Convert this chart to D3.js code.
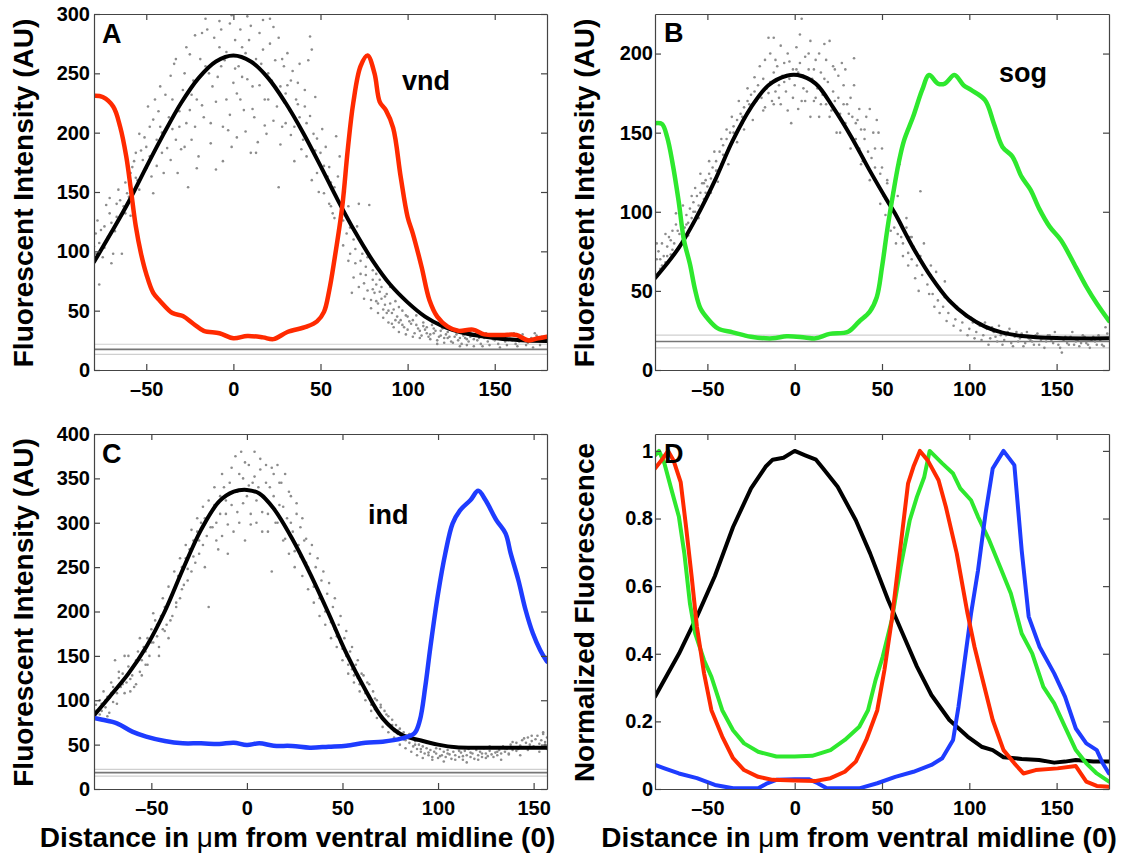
<!DOCTYPE html>
<html>
<head>
<meta charset="utf-8">
<script src="https://cdn.jsdelivr.net/npm/d3@7"></script>
<style>
  body { margin: 0; background: #fff; }
  svg text { font-family: "Liberation Sans", Arial, Helvetica, sans-serif; font-weight: bold; fill: #000; }
</style>
</head>
<body>
<svg id="fig" width="1133" height="854"></svg>
<script>
// ---- data ----
const xTicks = [-50, 0, 50, 100, 150];
const yTicksA = [0, 50, 100, 150, 200, 250, 300];
const yTicksB = [0, 50, 100, 150, 200];
const yTicksC = [0, 50, 100, 150, 200, 250, 300, 350, 400];
const yTicksD = [0, 0.2, 0.4, 0.6, 0.8, 1];

// background reference lines (mean and +/- band)
const hlinesA = [21.7, 17.4, 13.2];
const hlinesB = [22, 18, 14];
const hlinesC = [22.2, 18.4, 14.6];

// panel A: Dorsal fit (black) and vnd (red)
const dorsalA = [[-80,91],[-70,116],[-60,142],[-50,171],[-40,199],[-30,225],[-20,246],[-10,260],[0,265],[10,260],[20,246],[30,225],[40,200],[50,172],[60,143],[70,116],[80,92],[90,72],[100,57],[110,45],[120,37],[130,32],[140,29],[150,27],[165,25],[180,24.5]];
const vndA = [[-80,231],[-75,230],[-69,222],[-65,205],[-61.5,180],[-59,154],[-56,121],[-53,98],[-50,81],[-46,65],[-42,58],[-35,48],[-29,45.5],[-23,39],[-17,33],[-8,31],[0,26.7],[8,28.7],[17,27.5],[23,26],[31,32],[42,36.5],[48,41],[52,49],[55,67],[58,93],[62.5,138],[65.6,185],[68.8,225],[73,256],[77,265],[81,250],[84,226],[87.5,219],[91.7,204],[96,163],[100,129],[103,115],[108,87],[112.5,59],[117,45],[123,36.5],[129,33],[137.5,34],[144,30],[154,29.5],[162.5,29.5],[169,25],[175,26.7],[180,28]];
const scatterA = [[-79,115],[-77,107],[-77,72],[-74,121],[-73,139],[-71,132],[-70,90],[-69,98],[-67,129],[-65,143],[-64,98],[-62,132],[-61,149],[-59,166],[-58,171],[-56,183],[-55,160],[-54,199],[-52,177],[-50,188],[-49,222],[-48,180],[-46,149],[-45,228],[-44,194],[-42,205],[-42,239],[-41,183],[-40,166],[-37,213],[-36,177],[-35,228],[-34,258],[-33,194],[-32,166],[-31,205],[-29,236],[-28,188],[-27,272],[-26,154],[-25,219],[-24,194],[-23,244],[-22,205],[-21,228],[-20,180],[-18,284],[-17,213],[-16,256],[-15,287],[-13,191],[-12,239],[-10,169],[-9,247],[-8,272],[-7,287],[-6,205],[-5,261],[-4,228],[-3,202],[-2,292],[-1,188],[0,242],[1,278],[2,233],[3,256],[4,287],[5,247],[6,219],[7,267],[8,298],[9,278],[10,183],[11,239],[12,213],[13,183],[15,284],[16,258],[17,295],[18,228],[19,199],[20,250],[21,275],[22,244],[23,289],[24,261],[25,222],[26,154],[27,239],[28,205],[29,256],[30,233],[31,267],[32,219],[33,244],[35,205],[36,228],[37,242],[38,213],[40,194],[41,222],[42,208],[43,261],[44,281],[45,270],[46,199],[47,185],[48,166],[50,183],[52,149],[54,163],[55,171],[56,138],[57,132],[58,154],[59,197],[60,163],[61,180],[63,126],[65,115],[66,138],[67,98],[68,65],[69,110],[70,90],[71,121],[72,140],[73,81],[74,98],[75,73],[76,87],[77,67],[78,139],[79,59],[80,76],[81,65],[82,81],[83,56],[85,70],[86,51],[87,62],[88,48],[90,56],[91,39],[92,51],[94,45],[95,53],[96,42],[98,36],[99,46],[100,34],[102,39],[104,31],[106,35],[108,29],[110,34],[112,28],[115,31],[117,25],[119,29],[121,27],[123,32],[125,24],[127,28],[129,25],[131,22],[133,27],[135,24],[137,29],[140,25],[142,22],[144,27],[146,24],[148,28],[150,25],[152,22],[154,27],[156,24],[158,29],[160,25],[162,22],[165,27],[167,25],[169,23],[171,27],[173,31],[175,25],[177,28],[178,24],[100,45],[103,42],[105,38],[107,33],[109,40],[111,36],[113,30],[114,38],[116,33],[118,28],[120,35],[122,30],[124,28],[126,33],[128,30],[130,27],[132,30],[134,26],[136,28],[138,26],[85,60],[87,55],[89,50],[91,48],[93,42],[95,40],[97,38],[84,66],[82,72],[80,68],
  [-80,104],[-79,98],[-78,126],[-76,118],[-75,95],[-74,103],[-72,112],[-71,145],[-70,124],[-68,117],[-67,140],[-66,152],[-63,138],[-62,158],[-60,146],[-59,130],[-57,176],[-56,162],[-54,152],[-53,185],[-51,196],[-50,170],[-48,205],[-47,163],[-46,211],[-44,172],[-43,218],[-41,200],[-39,232],[-38,187],[-36,248],[-35,203],[-33,262],[-31,218],[-30,186],[-28,250],[-27,208],[-25,266],[-24,232],[-22,282],[-21,170],[-19,262],[-18,223],[-16,296],[-14,250],[-13,208],[-11,280],[-10,226],[-8,294],[-7,256],[-6,176],[-4,268],[-2,215],[-1,299],[1,254],[2,196],[4,228],[5,272],[7,201],[8,245],[10,290],[11,220],[13,262],[14,192],[15,240],[17,270],[18,206],[20,228],[21,296],[23,210],[24,238],[26,280],[27,190],[28,262],[30,208],[31,240],[33,198],[34,252],[35,176],[37,224],[38,258],[39,186],[41,236],[42,180],[44,214],[45,160],[47,230],[48,195],[49,150],[51,203],[52,172],[53,188],[55,140],[56,158],[58,128],[59,145],[61,118],[62,135],[63,105],[64,150],[66,92],[67,120],[69,78],[70,102],[72,70],[73,92],[75,60],[76,80],[77,95],[79,52],[80,84],[82,58],[83,48],[84,76],[86,44],[88,64],[89,40],[90,70],[92,36],[93,58],[95,32],[97,50],[99,30],[101,41],[103,28],[105,46],[107,27],[109,37],[111,31],[113,26],[115,35],[117,22],[119,33],[121,23],[123,27],[124,36],[126,23],[128,34],[130,20],[132,29],[134,21],[136,32],[138,20],[139,30],[141,27],[143,20],[145,31],[147,21],[149,26],[151,30],[153,19],[155,28],[157,21],[159,26],[161,31],[163,20],[164,24],[166,30],[168,21],[170,25],[172,19],[174,29],[176,21],[179,26]];

// panel B: Dorsal fit (black) and sog (green)
const dorsalB = [[-80,58],[-66.5,77],[-56,97],[-46,119],[-35.5,145],[-25,166],[-15,180],[-4.5,186],[1.7,186.4],[12,181],[22,166],[32.6,147],[43,126],[53,107],[57.4,99],[68,77],[78,59],[88.4,44],[98.8,34],[109,27.4],[119,23.6],[130,21.5],[150,20.2],[180,20]];
const sogB = [[-80,156],[-76,155.5],[-73,147],[-70,131],[-66.5,107],[-63.4,82],[-60,67],[-57,50.5],[-54,39],[-50,32.7],[-44,26.3],[-35.5,23.8],[-25,21],[-12.8,20],[-4.5,21.3],[5.8,20.6],[12,20],[20,22.8],[30.6,24.2],[36.8,30.5],[43,36.9],[47,46],[50,65],[53,88.5],[56.4,111.6],[59.5,130.6],[62.6,145],[67.8,160],[73,177],[77,186.4],[82,181],[86,181],[91.5,186.4],[96.7,180],[101,177],[109,170.6],[114,156],[119,141],[124.6,135],[130,122],[135,114],[140,102],[146,90.6],[152.5,82],[161,65],[167,52.7],[173,42],[180,31]];
const scatterB = [[-79,70],[-78,75],[-77,64],[-76,80],[-75,72],[-74,68],[-73,78],[-72,84],[-71,73],[-70,88],[-69,80],[-68,92],[-67,76],[-66,86],[-65,95],[-64,84],[-63,90],[-62,98],[-61,93],[-60,102],[-59,96],[-58,106],[-57,100],[-56,110],[-55,104],[-54,112],[-53,118],[-52,108],[-51,120],[-50,116],[-49,124],[-48,112],[-47,128],[-46,120],[-45,132],[-44,126],[-43,138],[-42,130],[-41,142],[-40,134],[-39,146],[-38,140],[-37,150],[-36,144],[-35,154],[-34,148],[-33,158],[-32,152],[-31,162],[-30,156],[-29,166],[-28,160],[-27,170],[-26,164],[-25,174],[-24,168],[-23,176],[-22,170],[-21,180],[-20,174],[-19,172],[-18,184],[-17,166],[-16,178],[-15,210],[-14,182],[-13,170],[-12,188],[-12,210],[-11,176],[-10,192],[-9,180],[-8,168],[-7,186],[-6,194],[-5,176],[-4,200],[-3,184],[-2,156],[-1,190],[0,180],[1,204],[2,188],[3,194],[4,222],[4,170],[5,186],[6,198],[7,176],[8,190],[9,208],[10,184],[11,170],[12,196],[13,178],[14,160],[15,188],[16,174],[17,206],[18,168],[19,182],[20,208],[21,164],[22,176],[23,190],[24,150],[25,172],[26,162],[27,194],[28,180],[29,156],[30,168],[31,150],[32,172],[33,160],[34,197],[35,146],[36,158],[37,140],[38,152],[39,132],[40,146],[41,160],[42,138],[43,120],[44,134],[45,150],[46,128],[47,158],[48,116],[49,124],[50,140],[51,110],[52,108],[53,118],[54,96],[55,104],[56,112],[57,90],[58,98],[59,86],[60,94],[60,130],[62,80],[63,88],[64,96],[65,74],[66,84],[67,70],[68,78],[70,66],[72,72],[72,113],[73,60],[75,64],[76,54],[78,60],[79,48],[80,56],[82,44],[83,52],[85,40],[86,46],[88,36],[90,42],[92,32],[94,38],[96,30],[98,34],[100,26],[102,30],[104,24],[106,28],[108,22],[110,26],[112,20],[114,24],[116,18],[118,22],[120,19],[122,24],[124,17],[126,21],[128,18],[130,23],[132,17],[134,20],[136,18],[138,22],[140,16],[142,20],[144,18],[146,22],[148,17],[150,20],[152,14],[154,19],[156,17],[158,21],[160,16],[162,19],[164,17],[166,21],[168,16],[170,19],[172,18],[174,22],[176,16],[178,27],
  [-80,62],[-79,80],[-77,70],[-76,66],[-74,86],[-73,72],[-71,82],[-70,76],[-68,99],[-67,88],[-65,80],[-64,104],[-62,92],[-61,85],[-59,110],[-58,100],[-57,115],[-55,96],[-54,124],[-52,118],[-51,112],[-49,132],[-48,121],[-46,138],[-45,126],[-44,119],[-42,146],[-41,136],[-39,152],[-38,130],[-36,160],[-35,150],[-33,144],[-32,170],[-30,160],[-29,152],[-27,178],[-26,168],[-24,158],[-23,185],[-21,172],[-20,192],[-18,164],[-17,196],[-15,175],[-14,200],[-12,168],[-11,196],[-9,172],[-8,205],[-6,182],[-4,164],[-3,195],[-1,172],[1,190],[2,165],[3,212],[5,178],[6,170],[8,200],[9,160],[11,190],[12,172],[14,200],[15,168],[17,184],[18,196],[20,160],[22,192],[23,170],[25,186],[26,150],[28,168],[29,190],[31,162],[32,140],[34,180],[35,156],[37,165],[38,130],[40,152],[42,128],[43,165],[45,122],[46,140],[48,150],[49,105],[50,128],[52,98],[53,120],[55,88],[56,102],[58,80],[59,110],[61,84],[62,72],[64,90],[65,66],[67,84],[69,58],[70,74],[71,50],[73,68],[74,80],[77,48],[78,66],[80,40],[81,62],[83,36],[84,50],[86,56],[87,31],[89,44],[91,28],[93,40],[95,25],[97,35],[99,22],[101,33],[103,20],[105,29],[107,19],[109,30],[111,16],[113,27],[115,21],[117,28],[119,16],[121,22],[123,26],[125,15],[127,24],[129,20],[131,15],[133,24],[135,19],[137,16],[139,23],[141,19],[143,14],[145,22],[147,19],[149,24],[151,16],[153,11],[155,21],[157,16],[159,24],[161,18],[163,15],[165,22],[167,17],[169,14],[171,21],[173,16],[175,19],[177,15],[179,23]];

// panel C: Dorsal fit (black) and ind (blue)
const dorsalC = [[-80,83],[-71.8,104],[-62,130],[-52.7,160],[-43,200],[-33.6,247],[-24,292],[-14.5,324],[-6.9,335],[0,337],[6.5,333],[14,316],[23.7,282],[33,243],[42.7,198],[52,153],[62,111.5],[71,79.6],[81,61],[90.5,55],[100,50],[109.5,47],[119,46.6],[138,46.6],[157,46.6]];
const indC = [[-80,80],[-75.6,78],[-68,74],[-60,64.6],[-52.7,59],[-43,54],[-33.6,51.5],[-24,51.5],[-14.5,50.7],[-6.9,52.2],[0,49.6],[6.5,51.5],[14,48.8],[23.7,48.5],[33,46.6],[42.7,47.7],[52,48.8],[62,52.2],[71,53.3],[81,57],[87.6,62.7],[90.5,77.7],[93.3,115],[96,160],[100,220],[103.8,265.5],[107.6,299],[111.5,314],[117,325.6],[121,336],[124.8,325.6],[130.5,303],[135.3,288],[138,265.5],[142,235.5],[145.8,201.7],[149.6,175.4],[153.4,156.6],[157,143.5]];
const scatterC = [[-79,95],[-78,80],[-77,100],[-76,88],[-75,110],[-74,92],[-73,104],[-72,86],[-71,120],[-70,98],[-69,145],[-68,108],[-67,125],[-66,115],[-65,130],[-64,150],[-63,120],[-62,138],[-61,110],[-60,128],[-59,140],[-58,118],[-57,155],[-56,132],[-55,145],[-54,160],[-53,140],[-52,170],[-51,150],[-50,180],[-49,165],[-48,190],[-47,172],[-46,160],[-45,195],[-44,180],[-43,205],[-42,185],[-41,170],[-40,215],[-39,195],[-38,225],[-37,205],[-36,240],[-35,215],[-34,250],[-33,230],[-32,260],[-31,235],[-30,270],[-29,245],[-28,280],[-27,255],[-26,290],[-25,265],[-24,300],[-23,275],[-22,305],[-21,285],[-20,205],[-19,310],[-18,295],[-17,320],[-16,300],[-15,270],[-14,330],[-13,285],[-12,340],[-11,310],[-10,265],[-9,345],[-8,320],[-7,290],[-6,375],[-5,335],[-4,300],[-3,380],[-2,350],[-1,280],[0,330],[1,365],[2,310],[3,345],[4,380],[5,300],[6,340],[7,360],[8,290],[9,330],[10,365],[11,310],[12,340],[13,245],[14,355],[15,300],[16,365],[17,320],[18,345],[19,280],[20,355],[21,305],[22,265],[23,330],[24,290],[25,250],[26,310],[27,275],[28,295],[29,240],[30,280],[31,255],[32,225],[33,265],[34,240],[35,210],[36,250],[37,225],[38,195],[39,235],[40,210],[41,185],[42,220],[43,195],[44,170],[45,205],[46,180],[47,160],[48,185],[49,165],[50,145],[51,170],[52,150],[53,130],[54,155],[55,135],[56,120],[57,140],[58,125],[59,110],[60,130],[61,115],[62,100],[63,120],[64,105],[65,95],[66,110],[67,90],[68,100],[69,85],[70,92],[71,80],[72,88],[73,75],[74,82],[75,70],[76,78],[77,65],[78,72],[79,62],[80,68],[81,58],[82,64],[83,55],[84,60],[85,52],[86,58],[87,48],[88,54],[89,45],[90,50],[91,42],[92,48],[93,40],[94,46],[95,38],[96,44],[97,36],[98,42],[99,40],[100,35],[101,45],[102,38],[103,42],[104,36],[105,44],[106,39],[107,34],[108,42],[109,38],[110,47],[111,36],[112,41],[113,33],[114,43],[115,38],[116,45],[117,36],[118,40],[119,34],[120,44],[121,38],[122,42],[123,36],[124,46],[125,40],[126,37],[127,43],[128,39],[129,47],[130,41],[131,38],[132,44],[133,40],[134,48],[135,42],[136,45],[137,39],[138,50],[139,44],[140,47],[141,52],[142,45],[143,49],[144,55],[145,47],[146,52],[147,58],[148,50],[149,54],[150,48],[151,56],[152,60],[153,51],[154,55],[155,62],[156,53],[157,58],
  [-80,78],[-79,88],[-77,84],[-76,96],[-74,100],[-73,82],[-71,108],[-70,115],[-68,96],[-67,132],[-65,118],[-64,108],[-62,150],[-61,124],[-59,115],[-58,145],[-56,170],[-55,128],[-53,155],[-52,140],[-50,165],[-49,198],[-47,185],[-46,150],[-44,215],[-43,178],[-41,228],[-40,190],[-38,245],[-37,210],[-35,260],[-34,225],[-32,275],[-31,248],[-29,292],[-28,262],[-26,305],[-25,280],[-23,318],[-22,250],[-20,325],[-19,295],[-17,340],[-16,280],[-14,310],[-13,355],[-11,325],[-10,298],[-8,362],[-7,335],[-5,312],[-4,355],[-2,322],[-1,368],[1,342],[2,298],[4,352],[5,325],[7,372],[8,312],[10,345],[11,290],[13,362],[14,330],[16,300],[17,345],[19,318],[20,282],[22,335],[23,300],[25,268],[26,322],[28,262],[29,305],[31,282],[32,250],[34,275],[35,228],[37,260],[38,215],[40,245],[41,200],[43,232],[44,188],[46,215],[47,172],[49,195],[50,158],[52,178],[53,140],[55,160],[56,128],[58,145],[59,118],[61,128],[62,108],[64,118],[65,88],[67,102],[68,80],[70,95],[71,70],[73,84],[74,64],[76,72],[77,58],[79,66],[80,50],[82,56],[83,46],[85,62],[86,42],[88,50],[89,38],[91,45],[92,35],[94,52],[95,41],[97,33],[99,46],[101,37],[103,31],[105,40],[107,47],[109,33],[111,43],[113,37],[115,30],[117,41],[119,47],[121,33],[123,40],[125,35],[127,48],[129,36],[131,42],[133,33],[135,46],[137,40],[139,53],[141,43],[143,38],[145,57],[147,44],[149,60],[151,47],[153,42],[155,64],[156,50],[157,45]];

// panel D: normalized profiles
const dorsalD = [[-80,0.273],[-66.3,0.40],[-56,0.51],[-45.7,0.63],[-35.3,0.775],[-25,0.889],[-16.7,0.953],[-12.6,0.974],[-6.4,0.98],[0,1.0],[6,0.987],[12.2,0.974],[16.3,0.948],[24.6,0.894],[35,0.795],[43.2,0.697],[53.5,0.559],[61.8,0.46],[70,0.362],[78.3,0.278],[88.6,0.204],[99,0.155],[107,0.125],[113.4,0.115],[119.6,0.094],[130,0.089],[140,0.086],[148.6,0.078],[154.8,0.081],[161,0.086],[171,0.081],[180,0.081]];
const vndD = [[-80,0.948],[-75.6,0.977],[-72.5,1.0],[-69.4,0.972],[-65.3,0.908],[-62.2,0.775],[-59,0.628],[-56,0.48],[-51.9,0.342],[-47.7,0.233],[-41.5,0.155],[-35.3,0.091],[-29,0.056],[-20.9,0.036],[-12.6,0.027],[0,0.025],[12.2,0.024],[20.5,0.032],[28.7,0.051],[35,0.081],[41,0.145],[47.3,0.233],[51.4,0.352],[55.6,0.5],[59.7,0.677],[64.9,0.903],[68,0.953],[71.7,1.0],[76.2,0.972],[82.4,0.913],[86.6,0.834],[92.8,0.697],[99,0.519],[103,0.42],[107.2,0.332],[113.4,0.204],[119.6,0.115],[125.8,0.076],[131,0.046],[138,0.056],[150.6,0.061],[161,0.068],[167,0.022],[173,0.009],[180,0.007]];
const sogD = [[-80,0.987],[-77.7,1.0],[-74.6,0.963],[-70.5,0.884],[-66.3,0.805],[-63.2,0.697],[-60,0.549],[-57,0.46],[-51.9,0.381],[-47.7,0.332],[-41.5,0.233],[-35.3,0.174],[-29,0.135],[-20.9,0.11],[-10.5,0.096],[0,0.096],[10,0.098],[20.5,0.115],[28.7,0.145],[37,0.184],[42,0.233],[46.3,0.322],[50.4,0.391],[55.6,0.5],[60.7,0.657],[65.9,0.795],[70,0.864],[74.2,0.923],[77.3,1.0],[84.5,0.963],[90.7,0.933],[94.8,0.889],[101,0.854],[105,0.805],[111.4,0.736],[117.6,0.657],[123.8,0.578],[130,0.46],[136,0.401],[142.4,0.302],[148.6,0.253],[154.8,0.184],[161,0.115],[167,0.076],[173,0.046],[180,0.022]];
const indD = [[-80,0.071],[-74.6,0.061],[-66.3,0.046],[-56,0.032],[-45.7,0.012],[-35.3,0.002],[-20.9,0.002],[-15.7,0.017],[-10.5,0.027],[0,0.029],[8,0.029],[13.2,0.017],[18.4,0.002],[37,0.002],[47.3,0.017],[57.6,0.036],[68,0.051],[78.3,0.071],[84.5,0.091],[90.7,0.145],[93.8,0.243],[96.9,0.362],[101,0.519],[105,0.647],[109.3,0.815],[113.4,0.948],[119.6,1.0],[125.8,0.958],[130,0.706],[134,0.51],[140.3,0.42],[148.6,0.342],[154.8,0.273],[161,0.179],[167,0.135],[173,0.115],[176.4,0.076],[180,0.046]];

const RED = "#ff2a00", GREEN = "#2ee82e", BLUE = "#1e3cff";
const yLabelAU = "Fluorescent Intensity (AU)";

const panels = [
  { tag: "A", left: 94, right: 547, top: 14, bottom: 370, xDomain: [-80, 180], yDomain: [0, 300],
    yTicks: yTicksA, yPad: 4, hlines: hlinesA, scatter: scatterA, smooth: true,
    lines: [[dorsalA, "#000", 4], [vndA, RED, 4.5]], yLabel: yLabelAU, xLabel: false,
    note: "vnd", noteX: 308, noteY: 76 },
  { tag: "B", left: 655, right: 1109, top: 14, bottom: 370, xDomain: [-80, 180], yDomain: [0, 225],
    yTicks: yTicksB, yPad: 2, hlines: hlinesB, scatter: scatterB, smooth: true,
    lines: [[dorsalB, "#000", 4], [sogB, GREEN, 4.5]], yLabel: yLabelAU, xLabel: false,
    note: "sog", noteX: 344, noteY: 68 },
  { tag: "C", left: 94, right: 547, top: 434, bottom: 789, xDomain: [-80, 157], yDomain: [0, 400],
    yTicks: yTicksC, yPad: 4, hlines: hlinesC, scatter: scatterC, smooth: true,
    lines: [[dorsalC, "#000", 4], [indC, BLUE, 4.5]], yLabel: yLabelAU, xLabel: true,
    note: "ind", noteX: 274, noteY: 90 },
  { tag: "D", left: 655, right: 1109, top: 434, bottom: 789, xDomain: [-80, 180], yDomain: [0, 1.05],
    yTicks: yTicksD, yPad: 2, hlines: [], scatter: [], smooth: false,
    lines: [[dorsalD, "#000", 4], [sogD, GREEN, 4], [indD, BLUE, 4], [vndD, RED, 4]],
    yLabel: "Normalized Fluorescence", xLabel: true, note: null }
];

const svg = d3.select("#fig");

function fmtY(d) {
  if (Number.isInteger(d)) return String(d);
  return d3.format(".1f")(d);
}

function drawPanel(p, i) {
  const w = p.right - p.left;
  const h = p.bottom - p.top;
  const x = d3.scaleLinear().domain(p.xDomain).range([0, w]);
  const y = d3.scaleLinear().domain(p.yDomain).range([h, 0]);
  const g = svg.append("g").attr("transform", `translate(${p.left},${p.top})`);

  g.append("clipPath").attr("id", "clip" + i)
    .append("rect").attr("width", w).attr("height", h);
  const plot = g.append("g").attr("clip-path", `url(#clip${i})`);

  // reference lines
  plot.selectAll("line.ref")
    .data(p.hlines)
    .join("line")
    .attr("x1", 0).attr("x2", w)
    .attr("y1", d => y(d)).attr("y2", d => y(d))
    .attr("stroke", (d, j) => j === 1 ? "#777" : "#cfcfcf")
    .attr("stroke-width", (d, j) => j === 1 ? 1.6 : 1.2);

  // scatter
  plot.selectAll("circle")
    .data(p.scatter)
    .join("circle")
    .attr("cx", d => x(d[0]))
    .attr("cy", d => y(d[1]))
    .attr("r", 1.3)
    .attr("fill", "#8c8c8c");

  const line = d3.line()
    .x(d => x(d[0]))
    .y(d => y(d[1]))
    .curve(p.smooth ? d3.curveCatmullRom.alpha(0.5) : d3.curveLinear);

  p.lines.forEach(([data, color, sw]) => {
    plot.append("path")
      .datum(data)
      .attr("d", line)
      .attr("fill", "none")
      .attr("stroke", color)
      .attr("stroke-width", sw)
      .attr("stroke-linejoin", "round")
      .attr("stroke-linecap", "round");
  });

  // axes with inward ticks on all four sides
  const axStyle = sel => {
    sel.select(".domain").attr("stroke", "#444").attr("stroke-width", 1.2);
    sel.selectAll(".tick line").attr("stroke", "#444").attr("stroke-width", 1.2);
    sel.selectAll(".tick text").attr("font-size", 20).attr("font-family", null);
  };
  g.append("g").attr("transform", `translate(0,${h})`)
    .call(d3.axisBottom(x).tickValues(xTicks).tickSizeInner(-6).tickSizeOuter(0).tickPadding(12)
      .tickFormat(d => d < 0 ? "\u2013" + Math.abs(d) : d))
    .call(axStyle);
  g.append("g")
    .call(d3.axisTop(x).tickValues(xTicks).tickSizeInner(-6).tickSizeOuter(0).tickFormat(""))
    .call(axStyle);
  g.append("g")
    .call(d3.axisLeft(y).tickValues(p.yTicks).tickSizeInner(-6).tickSizeOuter(0).tickPadding(p.yPad)
      .tickFormat(fmtY))
    .call(axStyle);
  g.append("g").attr("transform", `translate(${w},0)`)
    .call(d3.axisRight(y).tickValues(p.yTicks).tickSizeInner(-6).tickSizeOuter(0).tickFormat(""))
    .call(axStyle);

  // panel letter
  g.append("text")
    .attr("x", p.tag === "A" || p.tag === "C" ? 8 : 9)
    .attr("y", p.tag === "B" ? 28 : 29)
    .attr("font-size", 27)
    .text(p.tag);

  if (p.note) {
    g.append("text")
      .attr("x", p.noteX).attr("y", p.noteY)
      .attr("font-size", 27)
      .text(p.note);
  }

  // y label
  svg.append("text")
    .attr("transform", `translate(${p.left - 61},${p.top + h / 2 + 1}) rotate(-90)`)
    .attr("text-anchor", "middle")
    .attr("font-size", 28)
    .text(p.yLabel);

  if (p.xLabel) {
    const t = svg.append("text")
      .attr("x", p.left + w / 2 - 23)
      .attr("y", 847)
      .attr("text-anchor", "middle")
      .attr("font-size", 28);
    t.append("tspan").text("Distance in ");
    t.append("tspan").attr("font-weight", "normal").text("\u03bc");
    t.append("tspan").text("m from ventral midline (0)");
  }
}

panels.forEach(drawPanel);
</script>
</body>
</html>
